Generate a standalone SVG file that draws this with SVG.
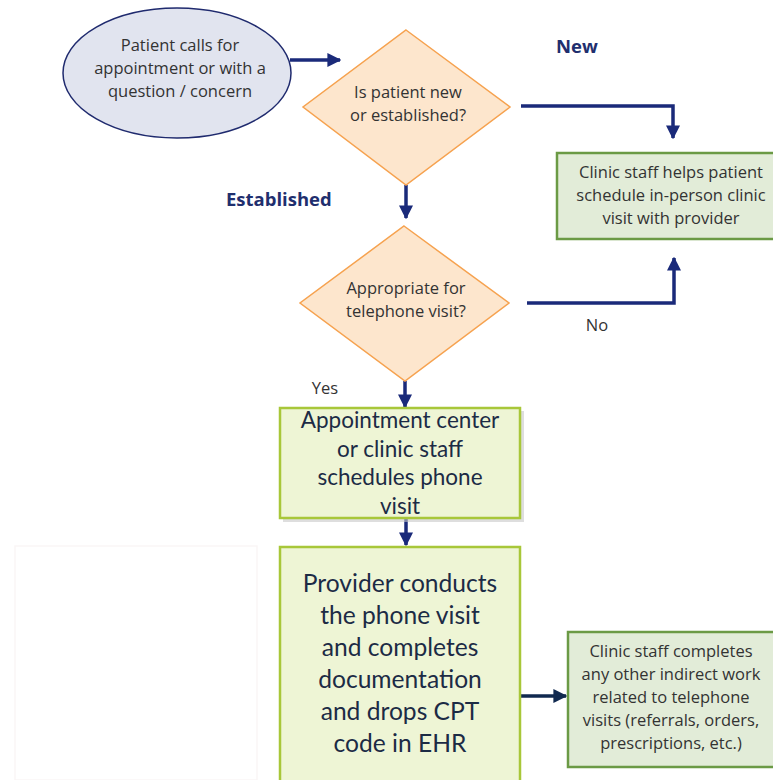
<svg xmlns="http://www.w3.org/2000/svg" width="773" height="780" viewBox="0 0 773 780">
<defs>
<style>
.t{font-family:"Open Sans","Liberation Sans",sans-serif;font-size:16.5px;fill:#333333;text-anchor:middle}
.c{font-family:Lato,"Liberation Sans",sans-serif;fill:#1c2b45;text-anchor:middle}
.lbl{font-family:"Open Sans","Liberation Sans",sans-serif;font-size:18.5px;font-weight:bold;fill:#1f2f6e}
.dia{fill:#fde6cd;stroke:#f6a24f;stroke-width:1.5}
.gbox{fill:#e2ecd8;stroke:#6b9a45;stroke-width:2.5}
.ybox{fill:#eef5d5;stroke:#a8c739;stroke-width:2.5}
.con{fill:none;stroke:#1a2a7a;stroke-width:3.5}
</style>
<marker id="ah" viewBox="0 0 10 10" refX="9" refY="5" markerWidth="4" markerHeight="4" orient="auto" markerUnits="strokeWidth">
<path d="M0,0 L10,5 L0,10 z" fill="#1a2a7a"/>
</marker>
<marker id="ah2" viewBox="0 0 10 10" refX="9" refY="5" markerWidth="4" markerHeight="4" orient="auto" markerUnits="strokeWidth">
<path d="M0,0 L10,5 L0,10 z" fill="#10294f"/>
</marker>
</defs>
<rect width="773" height="780" fill="#ffffff"/>
<g id="blank">
<rect x="15" y="546" width="242" height="234" fill="#ffffff" stroke="#faf6f6" stroke-width="1.5"/>
</g>
<g id="connectors">
<path class="con" d="M290,60 L340,60" marker-end="url(#ah)"/>
<path class="con" d="M406,185 L406,218" marker-end="url(#ah)"/>
<path class="con" d="M521,106 L673,106 L673,138" marker-end="url(#ah)"/>
<path class="con" d="M527,303 L674,303 L674,258" marker-end="url(#ah)"/>
<path class="con" d="M405,381 L405,407" marker-end="url(#ah)"/>
<path class="con" d="M406,518 L406,545" marker-end="url(#ah)"/>
<path fill="none" stroke="#10294f" stroke-width="3.5" d="M521,696 L566,696" marker-end="url(#ah2)"/>
<text class="lbl" x="556" y="53">New</text>
<text class="lbl" x="226" y="206">Established</text>
<text class="t" x="597" y="331">No</text>
<text class="t" x="325" y="394">Yes</text>
</g>
<g id="start">
<ellipse cx="177" cy="73" rx="114" ry="65" fill="#e1e4ef" stroke="#1f2a6e" stroke-width="1.5"/>
<text class="t" x="180" y="51">Patient calls for</text>
<text class="t" x="180" y="74">appointment or with a</text>
<text class="t" x="180" y="97">question / concern</text>
</g>
<g id="decision1">
<polygon class="dia" points="406,30 510,107 406,185 303,107"/>
<text class="t" x="408" y="98">Is patient new</text>
<text class="t" x="408" y="121">or established?</text>
</g>
<g id="newvisit">
<rect class="gbox" x="557" y="153" width="220" height="86"/>
<text class="t" x="671" y="178">Clinic staff helps patient</text>
<text class="t" x="671" y="201">schedule in-person clinic</text>
<text class="t" x="671" y="224">visit with provider</text>
</g>
<g id="decision2">
<polygon class="dia" points="404,226 509,303 405,381 300,303"/>
<text class="t" x="406" y="294">Appropriate for</text>
<text class="t" x="406" y="317">telephone visit?</text>
</g>
<g id="schedule">
<rect x="283" y="411" width="241" height="111" fill="#c8c8c8" opacity="0.6"/>
<rect class="ybox" x="280" y="408" width="240" height="110"/>
<text class="c" x="400" y="428" font-size="22.5">Appointment center</text>
<text class="c" x="400" y="457" font-size="22.5">or clinic staff</text>
<text class="c" x="400" y="485" font-size="22.5">schedules phone</text>
<text class="c" x="400" y="514" font-size="22.5">visit</text>
</g>
<g id="provider">
<rect class="ybox" x="280" y="547" width="240" height="240"/>
<text class="c" x="400" y="592" font-size="24.6">Provider conducts</text>
<text class="c" x="400" y="624" font-size="24.6">the phone visit</text>
<text class="c" x="400" y="656" font-size="24.6">and completes</text>
<text class="c" x="400" y="688" font-size="24.6">documentation</text>
<text class="c" x="400" y="720" font-size="24.6">and drops CPT</text>
<text class="c" x="400" y="752" font-size="24.6">code in EHR</text>
</g>
<g id="indirect">
<rect class="gbox" x="568" y="632" width="210" height="135"/>
<text class="t" x="671" y="657">Clinic staff completes</text>
<text class="t" x="671" y="680">any other indirect work</text>
<text class="t" x="671" y="703">related to telephone</text>
<text class="t" x="671" y="726">visits (referrals, orders,</text>
<text class="t" x="671" y="749">prescriptions, etc.)</text>
</g>
</svg>
